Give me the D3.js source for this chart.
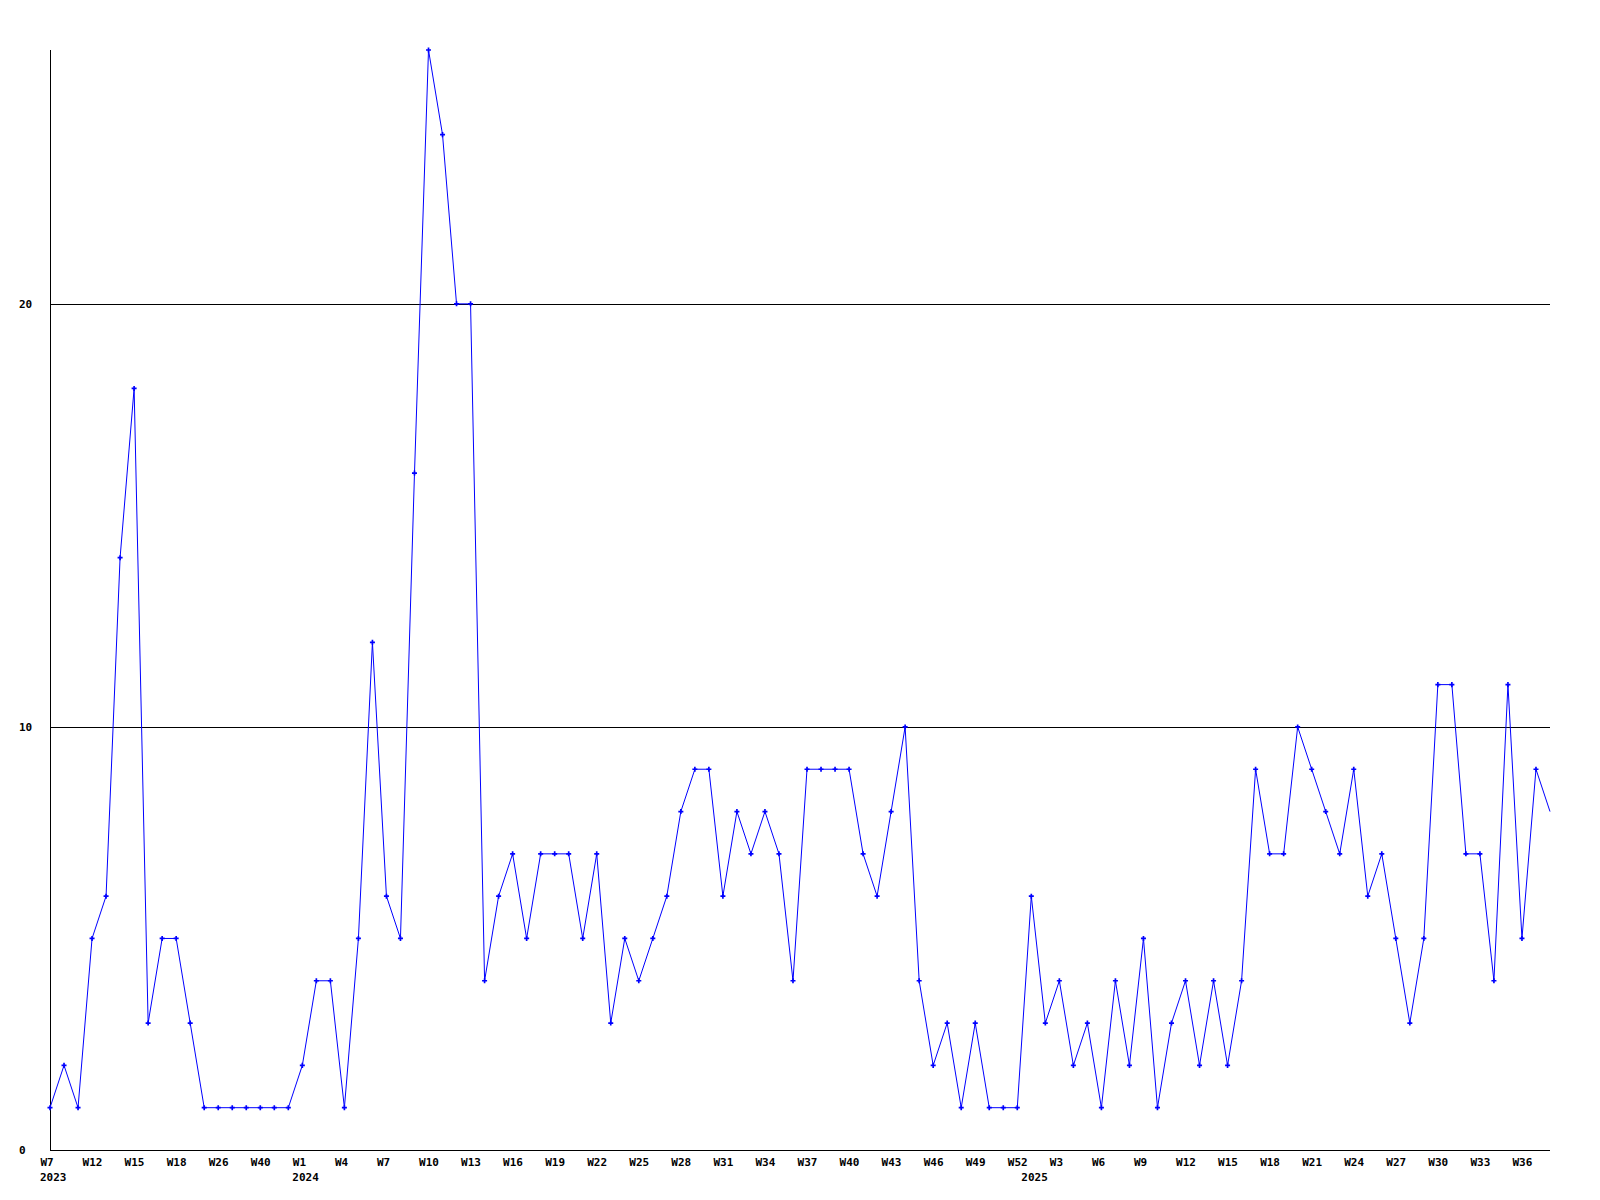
<!DOCTYPE html>
<html>
<head>
<meta charset="utf-8">
<script src="https://cdn.jsdelivr.net/npm/d3@7"></script>
<style>
  body { margin: 0; background: #fff; }
  svg { display: block; }
  text { font-family: "DejaVu Sans Mono", "Liberation Mono", monospace; font-weight: bold; font-size: 11px; fill: #000; }
  .axis-line, .grid line { stroke: #000; shape-rendering: crispEdges; }
  .series { fill: none; stroke: #0000ff; stroke-width: 1; }
  .marker { fill: #0000ff; }
</style>
</head>
<body>
<div id="chart"></div>
<script>
// Chart size
const width = 1600;
const height = 1200;
const plotLeft = 50, plotRight = 1550, plotTop = 50, plotBottom = 1150;

// Weeks with data, per year
const weeks2023 = ["W7","W8","W10","W12","W13","W14","W15","W16","W17","W18","W20","W23","W26","W30","W35","W40","W44","W48"];
const weeks2024 = d3.range(1, 53).map(w => "W" + w);
const weeks2025 = d3.range(1, 39).map(w => "W" + w);

// Weekly counts
const values2023 = [1,2,1,5,6,14,18,3,5,5,3,1,1,1,1,1,1,1];
const values2024 = [2,4,4,1,5,12,6,5,16,26,24,20,20,4,6,7,5,7,7,7,5,7,3,5,4,5,6,8,9,9,6,8,7,8,7,4,9,9,9,9,7,6,8,10,4,2,3,1,3,1,1,1];
const values2025 = [6,3,4,2,3,1,4,2,5,1,3,4,2,4,2,4,9,7,7,10,9,8,7,9,6,7,5,3,5,11,11,7,7,4,11,5,9,8];

// Y ticks
const yTicks = [0, 10, 20];
const yGrid = [10, 20];

// build rows
const data = [];
[[2023, weeks2023, values2023], [2024, weeks2024, values2024], [2025, weeks2025, values2025]]
  .forEach(([year, weeks, vals]) => {
    weeks.forEach((w, i) => data.push({ key: year + "-" + w, year, week: w, value: vals[i] }));
  });

const x = d3.scalePoint()
  .domain(data.map(d => d.key))
  .range([plotLeft, plotRight]);

const y = d3.scaleLinear()
  .domain([0, 26])
  .range([plotBottom, plotTop]);

const svg = d3.select("#chart")
  .append("svg")
  .attr("width", width)
  .attr("height", height);

// gridlines
const grid = svg.append("g")
  .attr("class", "grid")
  .attr("transform", `translate(${plotLeft},0)`)
  .call(d3.axisLeft(y).tickValues(yGrid).tickSize(-(plotRight - plotLeft)).tickFormat(""));
grid.select(".domain").remove();

// y labels
svg.append("g")
  .selectAll("text")
  .data(yTicks)
  .join("text")
  .attr("x", 19)
  .attr("y", d => y(d))
  .attr("dy", "0.35em")
  .text(d => d);

// axes lines
svg.append("line").attr("class", "axis-line")
  .attr("x1", plotLeft + 0.5).attr("x2", plotLeft + 0.5)
  .attr("y1", plotTop).attr("y2", plotBottom + 0.5);
svg.append("line").attr("class", "axis-line")
  .attr("x1", plotLeft).attr("x2", plotRight)
  .attr("y1", plotBottom + 0.5).attr("y2", plotBottom + 0.5);

// x labels: every third point
const tickKeys = data.filter((d, i) => i % 3 === 0).map(d => d.key);
const byKey = new Map(data.map(d => [d.key, d]));

const xAxis = svg.append("g")
  .attr("transform", `translate(0,${plotBottom})`)
  .call(d3.axisBottom(x).tickValues(tickKeys).tickSize(0).tickFormat(k => byKey.get(k).week));
xAxis.select(".domain").remove();
xAxis.attr("font-size", null).attr("font-family", null);
xAxis.selectAll("text")
  .attr("text-anchor", "start")
  .attr("x", -10)
  .attr("y", 16)
  .attr("dy", "0");

// year labels at first week of each year
const firstOfYear = data.filter((d, i) => i === 0 || data[i - 1].year !== d.year);
svg.append("g")
  .selectAll("text")
  .data(firstOfYear)
  .join("text")
  .attr("x", d => x(d.key) - 10)
  .attr("y", plotBottom + 31)
  .text(d => d.year);

// series line
const line = d3.line()
  .x(d => x(d.key))
  .y(d => y(d.value));

svg.append("path")
  .datum(data)
  .attr("class", "series")
  .attr("d", line);

// markers (last point has none)
svg.append("g")
  .selectAll("path")
  .data(data.slice(0, -1))
  .join("path")
  .attr("class", "marker")
  .attr("transform", d => `translate(${x(d.key)},${y(d.value)})`)
  .attr("d", d3.symbol(d3.symbolCross).size(14));
</script>
</body>
</html>
